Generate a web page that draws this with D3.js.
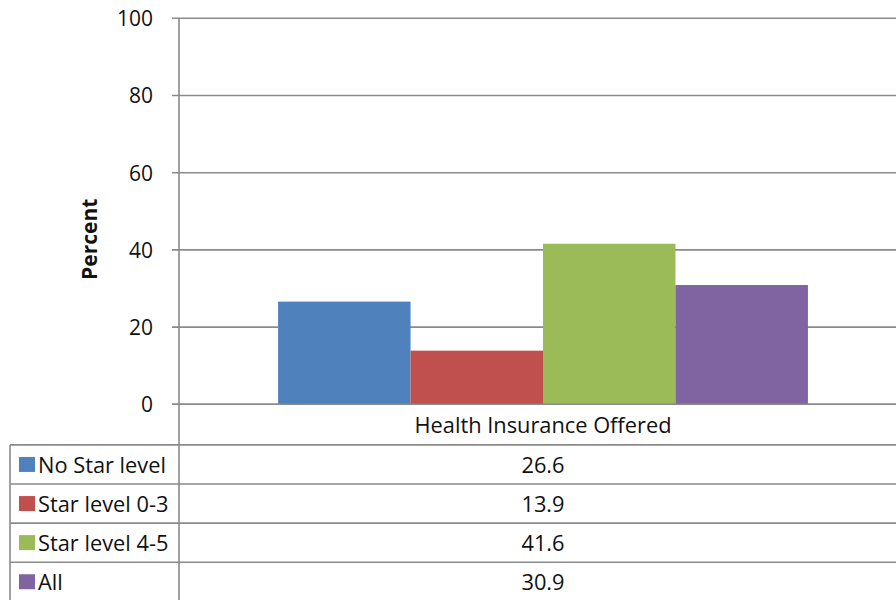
<!DOCTYPE html>
<html>
<head>
<meta charset="utf-8">
<script src="https://cdn.jsdelivr.net/npm/d3@7"></script>
<style>
  html, body { margin: 0; padding: 0; background: #fff; }
  svg { display: block; }
  text { font-family: "Open Sans", Lato, sans-serif; fill: #111; }
</style>
</head>
<body>
<svg id="chart" width="896" height="600"></svg>
<script>
// Chart data
const categories = ["Health Insurance Offered"];
const seriesNames = ["No Star level", "Star level 0-3", "Star level 4-5", "All"];
const seriesValues = [26.6, 13.9, 41.6, 30.9];
const seriesColors = ["#4f81bd", "#c0504d", "#9bbb59", "#8064a2"];
const yTicks = [0, 20, 40, 60, 80, 100];
const yTitle = "Percent";

const svg = d3.select("#chart");
const W = 896, H = 600;

// Plot frame
const plotLeft = 179, plotRight = 907;
const plotTop = 18.3, plotBottom = 404.3;
const tableLeft = 10;
const rowH = 39.1;
const gridColor = "#8a8a8a";
const tableFont = 21.8;

const y = d3.scaleLinear().domain([0, 100]).range([plotBottom, plotTop]);

const x0 = d3.scaleBand().domain(categories).range([plotLeft, plotRight])
  .paddingInner(0).paddingOuter(0.187);
const x1 = d3.scaleBand().domain(seriesNames).range([0, x0.bandwidth()]);

// Horizontal gridlines
svg.append("g")
  .selectAll("line")
  .data(yTicks)
  .join("line")
  .attr("x1", plotLeft - 7)
  .attr("x2", W)
  .attr("y1", d => y(d))
  .attr("y2", d => y(d))
  .attr("stroke", gridColor)
  .attr("stroke-width", 1.6);

// Y axis (labels only; line drawn separately)
const yAxis = d3.axisLeft(y).tickValues(yTicks).tickSize(0).tickPadding(0);
const yg = svg.append("g").attr("transform", `translate(${plotLeft - 26},0)`).call(yAxis);
yg.select(".domain").remove();
yg.selectAll("text")
  .attr("font-family", "'Open Sans', sans-serif")
  .attr("font-size", 21)
  .attr("fill", "#111")
  .attr("dy", "0.35em");

// Bars
const groups = svg.append("g")
  .selectAll("g")
  .data(categories)
  .join("g")
  .attr("transform", d => `translate(${x0(d)},0)`);

groups.selectAll("rect")
  .data(() => seriesNames.map((n, i) => ({ name: n, value: seriesValues[i], color: seriesColors[i] })))
  .join("rect")
  .attr("x", d => x1(d.name))
  .attr("width", x1.bandwidth())
  .attr("y", d => y(d.value))
  .attr("height", d => y(0) - y(d.value))
  .attr("fill", d => d.color);

// Zero line drawn over bar bases
svg.append("line")
  .attr("x1", plotLeft - 7).attr("x2", W)
  .attr("y1", y(0)).attr("y2", y(0))
  .attr("stroke", gridColor).attr("stroke-width", 1.6);

// Y axis title
svg.append("text")
  .attr("transform", `translate(97,${(plotTop + plotBottom) / 2 + 28}) rotate(-90)`)
  .attr("text-anchor", "middle")
  .attr("font-size", 21)
  .attr("font-weight", "bold")
  .text(yTitle);

// Data table
const tableTop = plotBottom + 40.6;
const rowsY = seriesNames.map((_, i) => tableTop + i * rowH);

// Category header inside the first band
svg.append("text")
  .attr("x", x0(categories[0]) + x0.bandwidth() / 2)
  .attr("y", (plotBottom + tableTop) / 2 + 1)
  .attr("dy", "0.35em")
  .attr("text-anchor", "middle")
  .attr("font-size", tableFont)
  .text(categories[0]);

// Row separators
svg.append("g")
  .selectAll("line")
  .data(rowsY)
  .join("line")
  .attr("x1", tableLeft).attr("x2", W)
  .attr("y1", d => d).attr("y2", d => d)
  .attr("stroke", gridColor).attr("stroke-width", 1.6);

// Table left border
svg.append("line")
  .attr("x1", tableLeft).attr("x2", tableLeft)
  .attr("y1", tableTop).attr("y2", H)
  .attr("stroke", gridColor).attr("stroke-width", 1.6);

// Vertical axis line running down through the table
svg.append("line")
  .attr("x1", plotLeft).attr("x2", plotLeft)
  .attr("y1", plotTop).attr("y2", H)
  .attr("stroke", gridColor).attr("stroke-width", 1.6);

// Legend keys and series names
const rows = svg.append("g")
  .selectAll("g")
  .data(seriesNames.map((n, i) => ({ name: n, value: seriesValues[i], color: seriesColors[i], top: rowsY[i] })))
  .join("g");

rows.append("rect")
  .attr("x", 19)
  .attr("y", d => d.top + rowH / 2 - 7.5)
  .attr("width", 16)
  .attr("height", 15)
  .attr("fill", d => d.color);

rows.append("text")
  .attr("x", 38)
  .attr("y", d => d.top + rowH / 2 + 1)
  .attr("dy", "0.35em")
  .attr("font-size", tableFont)
  .text(d => d.name);

rows.append("text")
  .attr("x", x0(categories[0]) + x0.bandwidth() / 2)
  .attr("y", d => d.top + rowH / 2 + 1)
  .attr("dy", "0.35em")
  .attr("text-anchor", "middle")
  .attr("font-size", tableFont)
  .text(d => d.value.toFixed(1));
</script>
</body>
</html>
